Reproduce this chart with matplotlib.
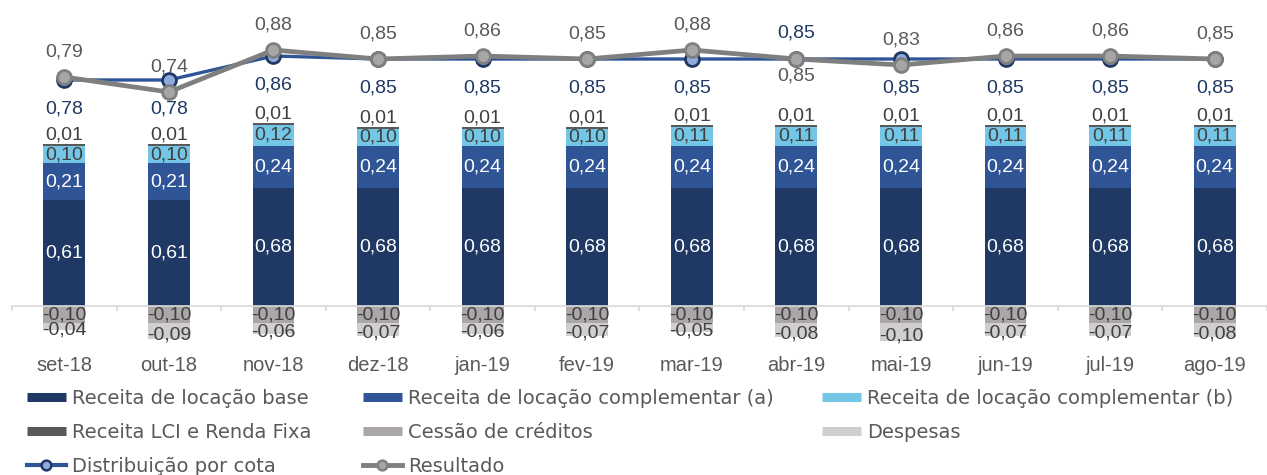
import matplotlib
matplotlib.use("Agg")
import matplotlib.pyplot as plt
from matplotlib.lines import Line2D
import numpy as np

plt.rcParams['font.family'] = ['Liberation Sans', 'DejaVu Sans']

# Data (R$ per cota)
months = ["set-18", "out-18", "nov-18", "dez-18", "jan-19", "fev-19",
          "mar-19", "abr-19", "mai-19", "jun-19", "jul-19", "ago-19"]
receita_base = [0.61, 0.61, 0.68, 0.68, 0.68, 0.68, 0.68, 0.68, 0.68, 0.68, 0.68, 0.68]
receita_comp_a = [0.21, 0.21, 0.24, 0.24, 0.24, 0.24, 0.24, 0.24, 0.24, 0.24, 0.24, 0.24]
receita_comp_b = [0.10, 0.10, 0.12, 0.10, 0.10, 0.10, 0.11, 0.11, 0.11, 0.11, 0.11, 0.11]
receita_lci = [0.01] * 12
cessao = [-0.10] * 12
despesas = [-0.04, -0.09, -0.06, -0.07, -0.06, -0.07, -0.05, -0.08, -0.10, -0.07, -0.07, -0.08]
distribuicao = [0.78, 0.78, 0.86, 0.85, 0.85, 0.85, 0.85, 0.85, 0.85, 0.85, 0.85, 0.85]
resultado = [0.79, 0.74, 0.88, 0.85, 0.86, 0.85, 0.88, 0.85, 0.83, 0.86, 0.86, 0.85]

c_base = "#203864"
c_comp_a = "#2F5597"
c_comp_b = "#74C6E6"
c_lci = "#595959"
c_cessao = "#ABA7A7"
c_desp = "#D0CECE"
c_dist = "#2F5597"
c_res = "#7F7F7F"
txt = "#404040"
fs = 14

W, H = 1267, 475
fig = plt.figure(figsize=(W / 100, H / 100), dpi=100)
ax_top, ax_bot = 0, 345
ax = fig.add_axes([12 / W, 1 - ax_bot / H, (W - 12) / W, (ax_bot - ax_top) / H])

x = np.arange(len(months))
bw = 0.4

def fmt(v):
    return f"{v:.2f}".replace(".", ",")

# positive stack
bottom = np.zeros(len(months))
for vals, col, lc in [(receita_base, c_base, "white"),
                      (receita_comp_a, c_comp_a, "white"),
                      (receita_comp_b, c_comp_b, txt)]:
    vals = np.array(vals)
    ax.bar(x, vals, bw, bottom=bottom, color=col, zorder=2)
    for xi, b, v in zip(x, bottom, vals):
        ax.text(xi, b + v / 2, fmt(v), ha="center", va="center", color=lc, fontsize=fs)
    bottom = bottom + vals
lci = np.array(receita_lci)
ax.bar(x, lci, bw, bottom=bottom, color=c_lci, zorder=2)
for xi, b, v in zip(x, bottom, lci):
    ax.text(xi, b + v + 0.003, fmt(v), ha="center", va="bottom", color=txt, fontsize=fs)

# negative stack (despesas labels sit a little lower, as in the original)
nb = np.zeros(len(months))
for vals, col, dy in [(cessao, c_cessao, 0), (despesas, c_desp, -2.5)]:
    vals = np.array(vals)
    ax.bar(x, vals, bw, bottom=nb, color=col, zorder=2)
    for xi, b, v in zip(x, nb, vals):
        ax.annotate(fmt(v), (xi, b + v / 2), xytext=(0, dy), textcoords="offset points",
                    ha="center", va="center", color=txt, fontsize=fs)
    nb = nb + vals

# axis scaling: zero line at y=306 px, ~174 px per unit
k1 = 174.0
zero_px = 306
ax.set_ylim(-(ax_bot - zero_px) / k1, (zero_px - ax_top) / k1)
ax.set_xlim(-0.5, 11.5 - (1281 - W) / 105.7)

for s in ["top", "left", "right"]:
    ax.spines[s].set_visible(False)
ax.spines["bottom"].set_position(("data", 0))
ax.spines["bottom"].set_color("#D9D9D9")
ax.spines["bottom"].set_linewidth(1.2)
ax.set_yticks([])
ax.set_xticks(x)
ax.set_xticklabels(months, fontsize=14.5, color="#595959")
ax.tick_params(axis="x", which="major", length=0, pad=36)
ax.set_xticks(np.arange(-0.5, 12, 1), minor=True)
ax.tick_params(axis="x", which="minor", length=3.5, color="#D9D9D9", width=1.2)

# lines on secondary axis
ax2 = ax.twinx()
k2 = 300.0
ref_px = 59
ax2.set_ylim(0.85 - (ax_bot - ref_px) / k2, 0.85 + (ref_px - ax_top) / k2)
for s in ax2.spines.values():
    s.set_visible(False)
ax2.set_yticks([])

ax2.plot(x, distribuicao, color=c_dist, lw=2.4, marker="o", ms=10,
         mfc="#8FAADC", mec=c_base, mew=2.0, zorder=3)
ax2.plot(x, resultado, color=c_res, lw=3.4, marker="o", ms=10,
         mfc="#A6A6A6", mec=c_res, mew=2.0, zorder=4)

for i in range(len(months)):
    swap = months[i] == "abr-19"
    ax2.annotate(fmt(distribuicao[i]), (x[i], distribuicao[i]),
                 xytext=(0, 19 if swap else -21), textcoords="offset points",
                 ha="center", va="center", color="#1F3864", fontsize=fs)
    ax2.annotate(fmt(resultado[i]), (x[i], resultado[i]),
                 xytext=(0, -12 if swap else 18), textcoords="offset points",
                 ha="center", va="center", color="#595959", fontsize=fs)

# legend in three separate columns
def bar_h(c):
    return Line2D([], [], color=c, lw=6.5, solid_capstyle="butt")

cols = [
    (27, [bar_h(c_base), bar_h(c_lci),
          Line2D([], [], color=c_dist, lw=3, marker="o", ms=7, mfc="#8FAADC", mec=c_base, mew=1.8)],
     ["Receita de locação base", "Receita LCI e Renda Fixa", "Distribuição por cota"]),
    (363, [bar_h(c_comp_a), bar_h(c_cessao),
           Line2D([], [], color=c_res, lw=3.5, marker="o", ms=7, mfc="#A6A6A6", mec=c_res, mew=1.8)],
     ["Receita de locação complementar (a)", "Cessão de créditos", "Resultado"]),
    (822, [bar_h(c_comp_b), bar_h(c_desp)],
     ["Receita de locação complementar (b)", "Despesas"]),
]
for xp, hs, ls in cols:
    fig.legend(hs, ls, loc="upper left", bbox_to_anchor=(xp / W, 1 - 389 / H),
               frameon=False, prop={"family": "DejaVu Sans", "size": 14},
               labelcolor="#595959", borderpad=0, borderaxespad=0,
               handlelength=2.0, handletextpad=0.3, labelspacing=0.76)

fig.savefig("out.png", dpi=100)
